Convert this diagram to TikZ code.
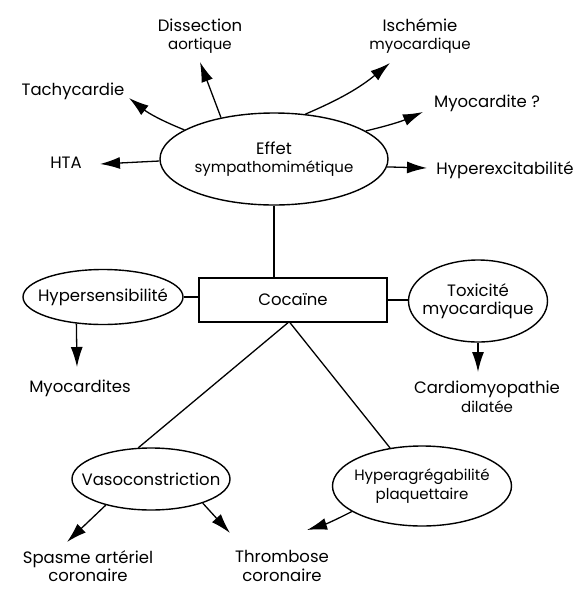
\documentclass[tikz,border=0pt]{standalone}
\usepackage{fontspec}
\setmainfont{Poppins}
\usetikzlibrary{shapes.geometric,arrows.meta}
\newcommand{\smf}{\fontsize{15}{17}\selectfont}
\begin{document}
\begin{tikzpicture}[x=1pt,y=-1pt,
  every node/.style={font=\fontsize{16.5}{18.5}\selectfont, inner sep=0pt},
  ell/.style={draw, ellipse, line width=1.4pt},
  etext/.style={label={[align=center]center:#1}},
  lbl/.style={align=center},
  arr/.style={line width=1.3pt, -{Latex[length=20pt,width=12pt]}},
  con/.style={line width=1.3pt}]
\useasboundingbox (0,0) rectangle (573,590);
% main nodes
\node[ell, minimum width=228pt, minimum height=92pt, etext={Effet\\{\smf sympathomimétique}}] (eff) at (274,159) {};
\node[draw, line width=1.4pt, minimum width=188pt, minimum height=44pt] (coc) at (293,300) {Cocaïne};
\node[ell, minimum width=160pt, minimum height=55pt, etext={Hypersensibilité}] (hyp) at (103,297) {};
\node[ell, minimum width=139pt, minimum height=82pt, etext={Toxicité\\myocardique}] (tox) at (478,301) {};
\node[ell, minimum width=158pt, minimum height=62pt, etext={Vasoconstriction}] (vaso) at (151,479) {};
\node[ell, minimum width=179pt, minimum height=80pt, etext={\smf Hyperagrégabilité\\\smf plaquettaire}] (hag) at (422,486) {};
% labels
\node[lbl] (diss) at (200,36) {Dissection\\{\smf aortique}};
\node[lbl] (tach) at (73,91) {Tachycardie};
\node[lbl] (hta) at (66,163) {HTA};
\node[lbl] (isch) at (420,36) {Ischémie\\{\smf myocardique}};
\node[lbl] (myo) at (487,103) {Myocardite ?};
\node[lbl] (hex) at (505,170) {Hyperexcitabilité};
\node[lbl] (myos) at (80,388) {Myocardites};
\node[lbl] (card) at (487,397) {Cardiomyopathie\\{\smf dilatée}};
\node[lbl] (spas) at (88,566) {Spasme artériel\\coronaire};
\node[lbl] (thr) at (282,566) {Thrombose\\coronaire};
% tips
\coordinate (tDiss) at (200,62);
\coordinate (tTach) at (129,98);
\coordinate (tHta) at (100,164);
\coordinate (tIsch) at (390,63);
\coordinate (tMyo) at (423,112);
\coordinate (tHex) at (427,168);
\coordinate (tMyos) at (77,367);
\coordinate (tCard) at (478,372);
\coordinate (tSpas) at (67,542);
\coordinate (tThrA) at (230,533);
\coordinate (tThrB) at (307,530);
% connectors
\draw[arr] (eff.142) -- (tDiss);
\draw[arr] (eff.162) to[bend left=8] (tTach);
\draw[arr] (eff.181) -- (tHta);
\draw[arr] (eff.55) to[bend right=8] (tIsch);
\draw[arr] (eff.17) to[bend right=5] (tMyo);
\draw[arr] (eff.-4) -- (tHex);
\draw[con] (eff.south) -- (eff.south |- coc.north);
\draw[con] (hyp.east) -- (hyp.east -| coc.west);
\draw[con] (coc.east) -- (coc.east -| tox.west);
\draw[arr] (hyp.-135) -- (tMyos);
\draw[arr] (tox.south) -- (tCard);
\draw[con] ([xshift=-5pt]coc.south) -- (vaso.112);
\draw[con] ([xshift=-3pt]coc.south) -- (hag.130);
\draw[arr] (vaso.-150) -- (tSpas);
\draw[arr] (vaso.-25) -- (tThrA);
\draw[arr] (hag.-160) to[bend left=5] (tThrB);
\end{tikzpicture}
\end{document}
